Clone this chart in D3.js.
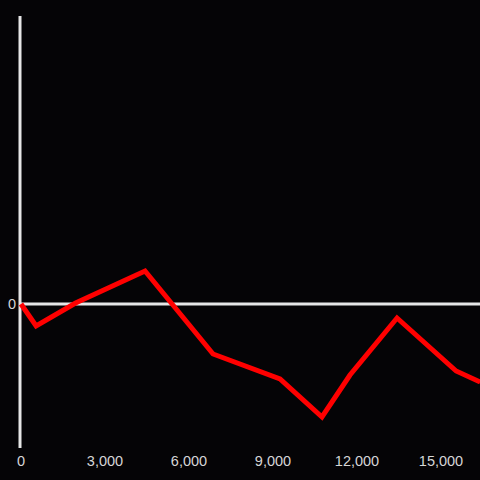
<!DOCTYPE html>
<html><head><meta charset="utf-8">
<script src="https://cdn.jsdelivr.net/npm/d3@7"></script>
<style>html,body{margin:0;padding:0;background:#050406;}svg{display:block;}</style>
</head><body>
<script>
const xValues = [0, 540, 1950, 4430, 6860, 9250, 10750, 11750, 13430, 15540, 16400];
const yValues = [0, -22, 1, 33, -50, -75, -113, -71, -14, -67, -78];
const xTicks = [0, 3000, 6000, 9000, 12000, 15000];
const yTicks = [0];

const W = 480, H = 480;
const svg = d3.select("body").append("svg").attr("width", W).attr("height", H);
svg.append("rect").attr("width", W).attr("height", H).attr("fill", "#050406");

const x = d3.scaleLinear().domain([0, 16393]).range([21, 480]);
const y = d3.scaleLinear().domain([-144, 288]).range([448, 16]);

svg.append("line").attr("x1", 20).attr("x2", 20).attr("y1", y(288)).attr("y2", y(-144))
  .attr("stroke", "#e6e6e6").attr("stroke-width", 3);
svg.append("line").attr("x1", 20).attr("x2", W).attr("y1", y(0)).attr("y2", y(0))
  .attr("stroke", "#e6e6e6").attr("stroke-width", 3);

svg.selectAll("text.yt").data(yTicks).enter().append("text")
  .attr("x", 16).attr("y", d => y(d)).attr("dy", "0.35em")
  .attr("text-anchor", "end").attr("fill", "#d6d6d6")
  .attr("font-family", "Liberation Sans, Arial, sans-serif").attr("font-size", 14.5)
  .text(d => d3.format(",")(d));

svg.selectAll("text.xt").data(xTicks).enter().append("text")
  .attr("x", d => x(d)).attr("y", 466)
  .attr("text-anchor", "middle").attr("fill", "#d6d6d6")
  .attr("font-family", "Liberation Sans, Arial, sans-serif").attr("font-size", 14.5)
  .text(d => d3.format(",")(d));

const line = d3.line().x((d, i) => x(xValues[i])).y(d => y(d));
svg.append("path").datum(yValues).attr("d", line)
  .attr("fill", "none").attr("stroke", "#ff0000").attr("stroke-width", 5)
  .attr("stroke-linejoin", "miter");
</script>
</body></html>
